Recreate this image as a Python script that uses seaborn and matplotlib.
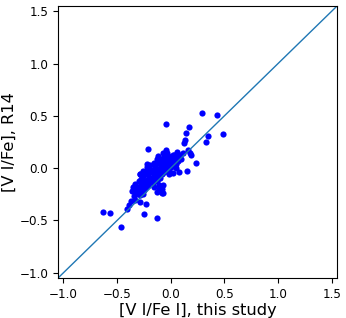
import matplotlib
matplotlib.use("Agg")
import matplotlib.pyplot as plt
import pandas as pd
import seaborn as sns

# [V I/Fe I] this study vs [V I/Fe] from R14
feh_this = [
    0.29, 0.43, -0.04, 0.17, 0.145, 0.49, 0.35, 0.135, 0.12, 0.33, 0.16, 0.19, 0.24,
    -0.63, -0.565, -0.46, -0.25, -0.13, -0.41, -0.39, -0.37, -0.33, -0.29, -0.23,
    -0.29, -0.29, -0.11, -0.08, -0.13, -0.085,
    -0.21, -0.07, -0.035, -0.12, -0.13, -0.22, -0.22, 0.02, 0.085, 0.11, 0.18,
    0.15, 0.08, 0.02, -0.015, -0.26, -0.27, -0.27, -0.07, -0.10, -0.07, -0.13,
    -0.04, 0.06, -0.21, -0.29,
    -0.36, -0.35, -0.34, -0.33, -0.33, -0.32, -0.31, -0.30, -0.30, -0.29, -0.28,
    -0.28, -0.27, -0.26, -0.26, -0.25, -0.25, -0.24, -0.24, -0.23, -0.22, -0.22,
    -0.21, -0.21, -0.20, -0.20, -0.19, -0.19, -0.18, -0.18, -0.17, -0.17, -0.16,
    -0.16, -0.15, -0.15, -0.14, -0.14, -0.13, -0.13, -0.12, -0.12, -0.11, -0.11,
    -0.10, -0.10, -0.09, -0.09, -0.08, -0.08, -0.07, -0.07, -0.06, -0.06, -0.05,
    -0.05, -0.04, -0.04, -0.03, -0.03, -0.02, -0.02, -0.01, -0.01, 0.00, 0.00,
    0.01, 0.02, 0.02, 0.03, 0.04, 0.05, 0.06, 0.07, 0.08, 0.10,
    -0.18, -0.15, -0.11, -0.06, -0.02, 0.03, 0.05, -0.24, -0.20, -0.16,
]
feh_r14 = [
    0.53, 0.51, 0.42, 0.39, 0.34, 0.33, 0.31, 0.27, 0.24, 0.25, 0.17, 0.13, 0.05,
    -0.42, -0.43, -0.56, -0.44, -0.48, -0.39, -0.35, -0.31, -0.30, -0.32, -0.34,
    -0.055, -0.26, -0.20, -0.24, -0.11, -0.195,
    0.185, 0.14, 0.14, 0.12, 0.09, 0.04, 0.01, 0.13, 0.13, 0.14, 0.14,
    -0.03, -0.035, -0.05, -0.04, -0.03, -0.105, -0.145, -0.16, -0.20, -0.24, -0.23,
    0.17, 0.15, 0.025, -0.06,
    -0.22, -0.18, -0.27, -0.21, -0.15, -0.25, -0.19, -0.12, -0.24, -0.17, -0.22,
    -0.10, -0.19, -0.25, -0.08, -0.15, -0.21, -0.05, -0.13, -0.18, -0.11, -0.02,
    -0.16, -0.07, 0.00, -0.13, -0.09, 0.03, -0.12, -0.04, -0.02, -0.14, -0.08,
    0.05, -0.11, -0.03, 0.04, -0.08, -0.01, -0.12, 0.06, -0.06, -0.02, 0.08,
    -0.05, -0.09, 0.03, -0.01, 0.07, -0.06, 0.00, 0.10, 0.04, -0.04, 0.06,
    0.11, 0.00, 0.08, 0.03, 0.12, 0.07, -0.01, 0.04, 0.11, 0.06, 0.01,
    0.09, 0.03, 0.12, 0.07, 0.10, 0.04, 0.11, 0.07, 0.12, 0.09,
    -0.03, 0.02, -0.16, 0.10, -0.06, 0.13, 0.00, -0.12, -0.04, -0.18,
]
one_to_one = [-1.05, 1.55]
ticks = [-1.0, -0.5, 0.0, 0.5, 1.0, 1.5]

df = pd.DataFrame({"this": feh_this, "r14": feh_r14})

fig = plt.figure(figsize=(3.46, 3.18), dpi=100)
ax = fig.add_axes([0.168, 0.126, 0.806, 0.855])

sns.lineplot(x=one_to_one, y=one_to_one, color="#1f77b4", linewidth=1.0, ax=ax)
sns.scatterplot(data=df, x="this", y="r14", color="blue", s=20, linewidth=0, ax=ax)

ax.set_xlim(-1.05, 1.55)
ax.set_ylim(-1.05, 1.55)
ax.set_xticks(ticks)
ax.set_yticks(ticks)
ax.tick_params(labelsize=8.6)
ax.set_xlabel("[V I/Fe I], this study", fontsize=11.7, labelpad=2)
ax.set_ylabel("[V I/Fe], R14", fontsize=11.7, labelpad=2)

fig.savefig("out.png", dpi=100)
